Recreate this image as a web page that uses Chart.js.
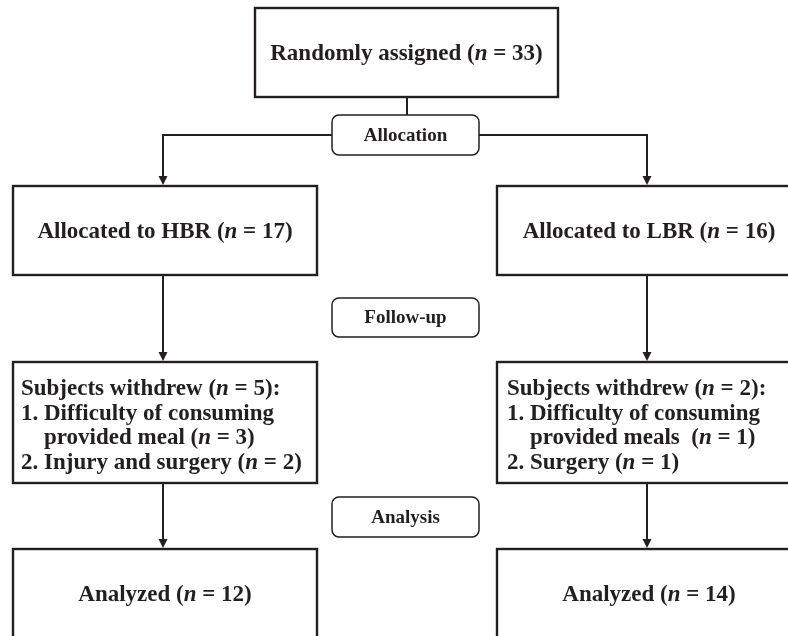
<!DOCTYPE html>
<html lang="en">
<head>
  <meta charset="UTF-8" />
  <title>Study flow diagram</title>
  <script src="https://cdn.jsdelivr.net/npm/chart.js"></script>
  <style>
    html, body { margin: 0; padding: 0; background: #fff; }
    #flow { display: block; }
  </style>
</head>
<body>
  <canvas id="flow" width="788" height="636"></canvas>

  <script>
    // flow data
    const stageLabels = ['Allocation', 'Follow-up', 'Analysis'];
    const groups = ['HBR', 'LBR'];
    const randomizedN = 33;
    const allocatedN = [17, 16];
    const withdrewN = [5, 2];
    const withdrawReasons = [
      [{ lines: ['Difficulty of consuming', 'provided meal'], n: 3 }, { lines: ['Injury and surgery'], n: 2 }],
      [{ lines: ['Difficulty of consuming', 'provided meals '], n: 1 }, { lines: ['Surgery'], n: 1 }]
    ];
    const analyzedN = [12, 14];

    // layout, in axis units (axes run 0..788 and 0..636)
    const colLeft = [13, 497];
    const colWidth = 304;
    const arrowX = [163, 647];
    const topBox = { x0: 255, x1: 558, y0: 8, y1: 97 };
    const rowAllocated = [186, 275];
    const rowWithdrew = [362, 483];
    const rowAnalyzed = [549, 638];
    const stageBox = { x0: 332, x1: 479 };
    const stageRows = [[115, 155], [298, 337], [497, 537]];

    const ink = '#231f20';
    const FONT = '"Liberation Serif", "Times New Roman", serif';
    const BIG = 23, SMALL = 19;
    const BIG_SHIFT = 2;

    function segs(str) {
      return str.split('*').map((t, i) => ({ t, it: i % 2 === 1 }));
    }
    function fontFor(it, size) {
      return (it ? 'italic ' : '') + 'bold ' + size + 'px ' + FONT;
    }
    function richWidth(ctx, str, size) {
      let w = 0;
      segs(str).forEach(s => { ctx.font = fontFor(s.it, size); w += ctx.measureText(s.t).width; });
      return w;
    }
    function drawRich(ctx, str, x, y, size, align) {
      let cx = align === 'center' ? x - richWidth(ctx, str, size) / 2 : x;
      ctx.textAlign = 'left';
      ctx.textBaseline = 'middle';
      segs(str).forEach(s => {
        ctx.font = fontFor(s.it, size);
        ctx.fillText(s.t, cx, y);
        cx += ctx.measureText(s.t).width;
      });
    }

    const flowPlugin = {
      id: 'flow',
      afterDraw(chart) {
        const ctx = chart.ctx;
        const px = v => chart.scales.x.getPixelForValue(v);
        const py = v => chart.scales.y.getPixelForValue(v);
        ctx.save();
        ctx.strokeStyle = ink;
        ctx.fillStyle = ink;

        function rect(x0, y0, x1, y1) {
          ctx.lineWidth = 2.4;
          ctx.strokeRect(px(x0), py(y0), px(x1) - px(x0), py(y1) - py(y0));
        }
        function round(x0, y0, x1, y1) {
          ctx.lineWidth = 1.5;
          ctx.beginPath();
          ctx.roundRect(px(x0), py(y0), px(x1) - px(x0), py(y1) - py(y0), 7);
          ctx.stroke();
        }
        function line(pts) {
          ctx.lineWidth = 2;
          ctx.beginPath();
          pts.forEach((p, i) => i ? ctx.lineTo(px(p[0]), py(p[1])) : ctx.moveTo(px(p[0]), py(p[1])));
          ctx.stroke();
        }
        function arrow(x, y0, y1) {
          line([[x, y0], [x, y1 - 8]]);
          ctx.beginPath();
          ctx.moveTo(px(x) - 4.5, py(y1) - 10);
          ctx.lineTo(px(x) + 4.5, py(y1) - 10);
          ctx.lineTo(px(x), py(y1) - 1);
          ctx.closePath();
          ctx.fill();
        }

        // top box
        rect(topBox.x0, topBox.y0, topBox.x1, topBox.y1);
        drawRich(ctx, 'Randomly assigned (*n* = ' + randomizedN + ')',
          px((topBox.x0 + topBox.x1) / 2), py((topBox.y0 + topBox.y1) / 2) + BIG_SHIFT, BIG, 'center');

        // stage labels
        const scx = (stageBox.x0 + stageBox.x1) / 2;
        stageLabels.forEach((lab, i) => {
          const r = stageRows[i];
          round(stageBox.x0, r[0], stageBox.x1, r[1]);
          drawRich(ctx, lab, px(scx), py((r[0] + r[1]) / 2) + 1, SMALL, 'center');
        });

        // connectors from top box
        const ay = (stageRows[0][0] + stageRows[0][1]) / 2;
        line([[407, topBox.y1], [407, stageRows[0][0]]]);
        line([[stageBox.x0, ay], [arrowX[0], ay]]);
        line([[stageBox.x1, ay], [arrowX[1], ay]]);

        groups.forEach((g, k) => {
          const x0 = colLeft[k], x1 = colLeft[k] + colWidth, cx = (x0 + x1) / 2;
          arrow(arrowX[k], ay - 1, rowAllocated[0]);

          rect(x0, rowAllocated[0], x1, rowAllocated[1]);
          drawRich(ctx, 'Allocated to ' + g + ' (*n* = ' + allocatedN[k] + ')',
            px(cx), py((rowAllocated[0] + rowAllocated[1]) / 2) + BIG_SHIFT, BIG, 'center');

          arrow(arrowX[k], rowAllocated[1], rowWithdrew[0]);
          rect(x0, rowWithdrew[0], x1, rowWithdrew[1]);

          const tx = px(x0 + (k ? 10 : 8));
          let ty = py(rowWithdrew[0] + 25) + BIG_SHIFT;
          const lh = 24.6;
          drawRich(ctx, 'Subjects withdrew (*n* = ' + withdrewN[k] + '):', tx, ty, BIG, 'left');
          ctx.font = fontFor(false, BIG);
          withdrawReasons[k].forEach((r, j) => {
            const num = (j + 1) + '. ';
            const ind = ctx.measureText(num).width;
            r.lines.forEach((ln, m) => {
              ty += lh;
              let s = (m === 0 ? num : '') + ln;
              if (m === r.lines.length - 1) s += ' (*n* = ' + r.n + ')';
              drawRich(ctx, s, m === 0 ? tx : tx + ind, ty, BIG, 'left');
            });
          });

          arrow(arrowX[k], rowWithdrew[1], rowAnalyzed[0]);
          rect(x0, rowAnalyzed[0], x1, rowAnalyzed[1]);
          drawRich(ctx, 'Analyzed (*n* = ' + analyzedN[k] + ')',
            px(cx), py((rowAnalyzed[0] + rowAnalyzed[1]) / 2) + BIG_SHIFT, BIG, 'center');
        });

        ctx.restore();
      }
    };

    new Chart(document.getElementById('flow'), {
      type: 'scatter',
      data: { datasets: [] },
      options: {
        responsive: false,
        animation: false,
        devicePixelRatio: 1,
        layout: { padding: 0 },
        plugins: { legend: { display: false }, tooltip: { enabled: false } },
        scales: {
          x: { type: 'linear', min: 0, max: 788, display: false },
          y: { type: 'linear', min: 0, max: 636, reverse: true, display: false }
        }
      },
      plugins: [flowPlugin]
    });
  </script>
</body>
</html>
